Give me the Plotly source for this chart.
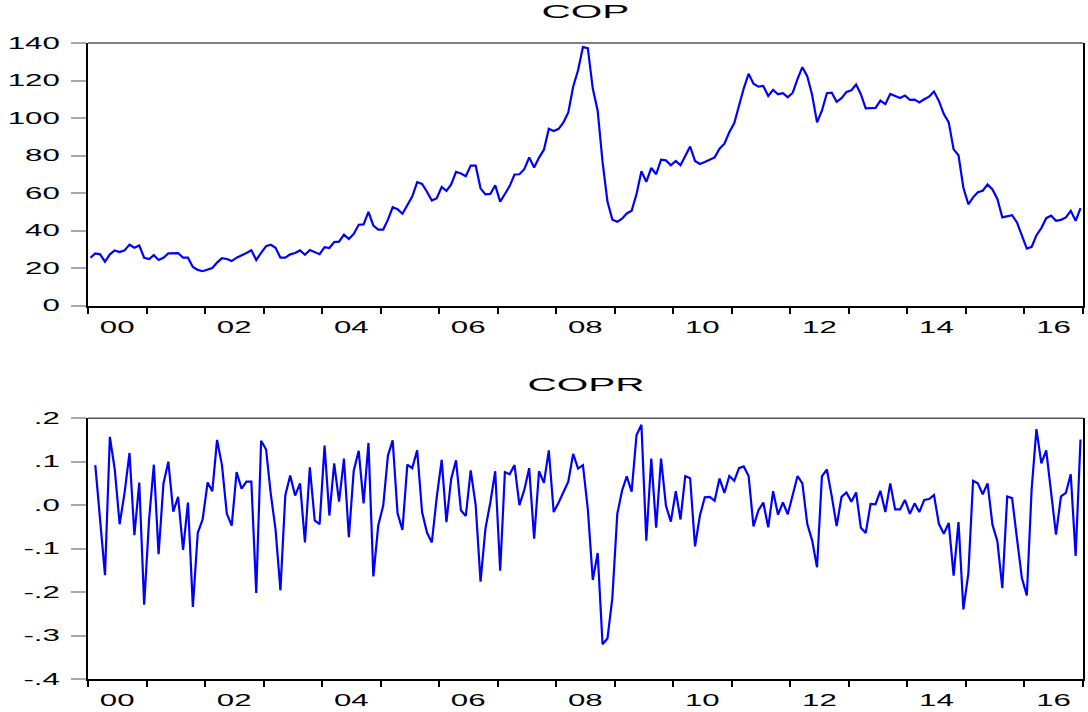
import plotly.graph_objects as go
import pandas as pd

# Monthly crude oil price level, Jan 2000 - Dec 2016
cop = [
    25.5, 27.8, 27.3, 23.4, 27.3, 29.4, 28.5, 29.4, 32.5, 30.8, 32.0, 25.5,
    24.8, 26.9, 24.3, 25.5, 27.8, 27.8, 28.0, 25.5, 25.5, 20.6, 19.0, 18.3,
    19.2, 20.0, 22.9, 25.3, 24.8, 23.7, 25.5, 26.7, 28.0, 29.5, 24.3, 28.1,
    31.7, 32.4, 30.8, 25.5, 25.5, 27.3, 28.0, 29.4, 27.1, 29.6, 28.5, 27.4,
    31.1, 30.7, 33.8, 34.1, 37.8, 35.5, 38.2, 43.1, 43.3, 50.0, 42.6, 40.5,
    40.5, 45.8, 52.4, 51.4, 48.9, 53.7, 58.1, 65.8, 64.8, 60.7, 56.0, 57.2,
    63.2, 61.1, 64.6, 71.3, 70.4, 69.0, 74.6, 74.6, 62.5, 59.3, 59.5, 64.1,
    55.4, 59.5, 63.7, 69.9, 70.0, 72.7, 79.0, 73.6, 78.9, 83.1, 94.3, 93.1,
    94.2, 97.7, 103.0, 116.7, 125.5, 137.8, 137.3, 115.7, 103.9, 76.6, 55.4, 45.8,
    44.7, 46.3, 49.1, 50.5, 59.5, 71.6, 66.0, 73.4, 70.0, 77.8, 77.4, 74.8,
    77.1, 74.8, 79.7, 84.8, 77.1, 75.5, 76.6, 78.0, 79.0, 83.6, 86.3, 92.4,
    97.3, 106.5, 115.7, 123.6, 118.3, 116.7, 117.1, 111.8, 115.0, 112.7, 113.2, 111.1,
    113.5, 120.9, 127.1, 122.3, 112.3, 97.7, 103.9, 113.2, 113.5, 108.6, 110.6, 113.9,
    114.8, 117.9, 112.7, 105.1, 105.3, 105.4, 109.3, 107.4, 112.8, 111.8, 110.7, 112.0,
    109.7, 109.8, 108.3, 110.0, 111.4, 114.1, 109.1, 102.1, 97.7, 83.3, 80.1, 62.8,
    54.0, 57.7, 60.4, 61.2, 64.6, 61.9, 56.8, 47.0, 47.5, 48.2, 44.3, 37.8,
    30.4, 31.3, 37.5, 41.3, 46.6, 47.9, 45.2, 45.7, 47.0, 50.5, 45.2, 51.9,
]

# Monthly return series, Feb 2000 - Dec 2016
copr = [
    0.092, -0.032, -0.161, 0.157, 0.082, -0.044, 0.029, 0.120, -0.069, 0.052, -0.229, -0.032,
    0.093, -0.113, 0.050, 0.100, -0.015, 0.019, -0.103, 0.006, -0.234, -0.064, -0.033, 0.052,
    0.032, 0.150, 0.092, -0.020, -0.047, 0.076, 0.038, 0.054, 0.054, -0.202, 0.148, 0.128,
    0.025, -0.056, -0.196, 0.023, 0.068, 0.022, 0.050, -0.086, 0.087, -0.035, -0.044, 0.137,
    -0.024, 0.096, 0.008, 0.107, -0.074, 0.079, 0.125, 0.004, 0.143, -0.164, -0.047, -0.001,
    0.114, 0.149, -0.019, -0.057, 0.093, 0.085, 0.126, -0.016, -0.063, -0.086, 0.018, 0.104,
    -0.039, 0.060, 0.103, -0.012, -0.025, 0.080, 0.000, -0.176, -0.054, 0.006, 0.078, -0.151,
    0.076, 0.071, 0.092, 0.000, 0.035, 0.085, -0.077, 0.078, 0.051, 0.126, -0.016, 0.006,
    0.029, 0.054, 0.118, 0.084, 0.092, -0.009, -0.172, -0.110, -0.320, -0.307, -0.214, -0.020,
    0.033, 0.066, 0.031, 0.161, 0.185, -0.082, 0.107, -0.052, 0.107, -0.001, -0.038, 0.032,
    -0.033, 0.067, 0.062, -0.095, -0.024, 0.018, 0.019, 0.010, 0.061, 0.028, 0.067, 0.056,
    0.085, 0.089, 0.067, -0.049, -0.012, 0.006, -0.051, 0.032, -0.022, 0.006, -0.021, 0.022,
    0.067, 0.050, -0.043, -0.081, -0.143, 0.066, 0.082, 0.020, -0.048, 0.019, 0.029, 0.008,
    0.029, -0.052, -0.064, 0.003, 0.002, 0.033, -0.016, 0.050, -0.010, -0.010, 0.012, -0.020,
    0.004, -0.016, 0.012, 0.014, 0.023, -0.043, -0.066, -0.041, -0.162, -0.039, -0.240, -0.157,
    0.056, 0.050, 0.025, 0.050, -0.045, -0.083, -0.191, 0.020, 0.016, -0.077, -0.168, -0.208,
    0.037, 0.175, 0.096, 0.126, 0.028, -0.068, 0.020, 0.028, 0.071, -0.117, 0.151,
]

year_labels = ["00", "02", "04", "06", "08", "10", "12", "14", "16"]
cop_ticks = [0, 20, 40, 60, 80, 100, 120, 140]
copr_ticks = [-0.4, -0.3, -0.2, -0.1, 0.0, 0.1, 0.2]
copr_ticktext = ["-.4", "-.3", "-.2", "-.1", ".0", ".1", ".2"]

months = pd.date_range("2000-01-01", periods=len(cop), freq="MS")
year_starts = [f"{y}-01-01" for y in range(2000, 2018)]
label_pos = [f"20{lab}-07-01" for lab in year_labels]

BLUE = "#0000FF"
FONT = "Liberation Sans, Arial, sans-serif"

fig = go.Figure()
fig.add_trace(go.Scatter(
    x=months, y=cop, mode="lines", xperiod="M1", xperiodalignment="middle",
    line=dict(color=BLUE, width=2.2), xaxis="x", yaxis="y", showlegend=False,
))
fig.add_trace(go.Scatter(
    x=months[1:], y=copr, mode="lines", xperiod="M1", xperiodalignment="middle",
    line=dict(color=BLUE, width=2.2), xaxis="x2", yaxis="y2", showlegend=False,
))

xaxis_style = dict(
    type="date", range=["2000-01-01", "2017-01-01"],
    tickmode="array", tickvals=label_pos, ticktext=year_labels,
    ticks="outside", ticklen=6, tickcolor="rgba(0,0,0,0)",
    tickfont=dict(family=FONT, size=16, color="black"),
    minor=dict(tickmode="array", tickvals=year_starts, ticks="outside",
               ticklen=6, tickwidth=2, tickcolor="black", showgrid=False),
    showgrid=False, zeroline=False, showline=True, linecolor="black", linewidth=2,
    fixedrange=True,
)
yaxis_style = dict(
    ticks="outside", ticklen=15, tickwidth=2, tickcolor="#a8a8a8",
    ticklabelstandoff=8,
    tickfont=dict(family=FONT, size=16, color="black"),
    showgrid=False, zeroline=False, showline=True, mirror=True,
    linecolor="black", linewidth=2, fixedrange=True,
)

top_dom = [0.5872, 1.0]
bot_dom = [0.0, 0.4101]

fig.update_layout(
    width=1088, height=712,
    margin=dict(l=88, r=3, t=43, b=27),
    paper_bgcolor="white", plot_bgcolor="white",
    xaxis=dict(xaxis_style, anchor="y"),
    xaxis2=dict(xaxis_style, anchor="y2"),
    yaxis=dict(yaxis_style, domain=top_dom, range=[0, 140], anchor="x",
               tickmode="array", tickvals=cop_ticks),
    yaxis2=dict(yaxis_style, domain=bot_dom, range=[-0.4, 0.2], anchor="x2",
                tickmode="array", tickvals=copr_ticks, ticktext=copr_ticktext),
    annotations=[
        dict(text="COP", x=0.5, y=1.0483, xref="paper", yref="paper",
             xanchor="center", yanchor="middle", showarrow=False,
             font=dict(family=FONT, size=18, color="black")),
        dict(text="COPR", x=0.5, y=0.4626, xref="paper", yref="paper",
             xanchor="center", yanchor="middle", showarrow=False,
             font=dict(family=FONT, size=18, color="black")),
    ],
    shapes=[
        dict(type="line", xref="paper", yref="paper", x0=0, x1=1,
             y0=top_dom[1], y1=top_dom[1], line=dict(color="#555555", width=1.5)),
        dict(type="line", xref="paper", yref="paper", x0=0, x1=1,
             y0=bot_dom[1], y1=bot_dom[1], line=dict(color="#555555", width=1.5)),
    ],
)

# Widen the lettering horizontally (wide EViews-style glyphs)
widen_js = """
var gd = document.getElementById('{plot_id}');
function widen() {
  var groups = [['.xaxislayer-above text, .yaxislayer-above text', 1.95],
                ['.annotation-text', 2.25]];
  groups.forEach(function (g) {
    gd.querySelectorAll(g[0]).forEach(function (t) {
      if (t.getAttribute('data-wide')) return;
      var w = t.getComputedTextLength();
      if (w > 0) {
        t.setAttribute('textLength', (w * g[1]).toFixed(1));
        t.setAttribute('lengthAdjust', 'spacingAndGlyphs');
        t.setAttribute('data-wide', '1');
      }
    });
  });
}
widen();
gd.on('plotly_afterplot', widen);
"""

fig.write_html("out.html", post_script=widen_js, config={"displayModeBar": False})
